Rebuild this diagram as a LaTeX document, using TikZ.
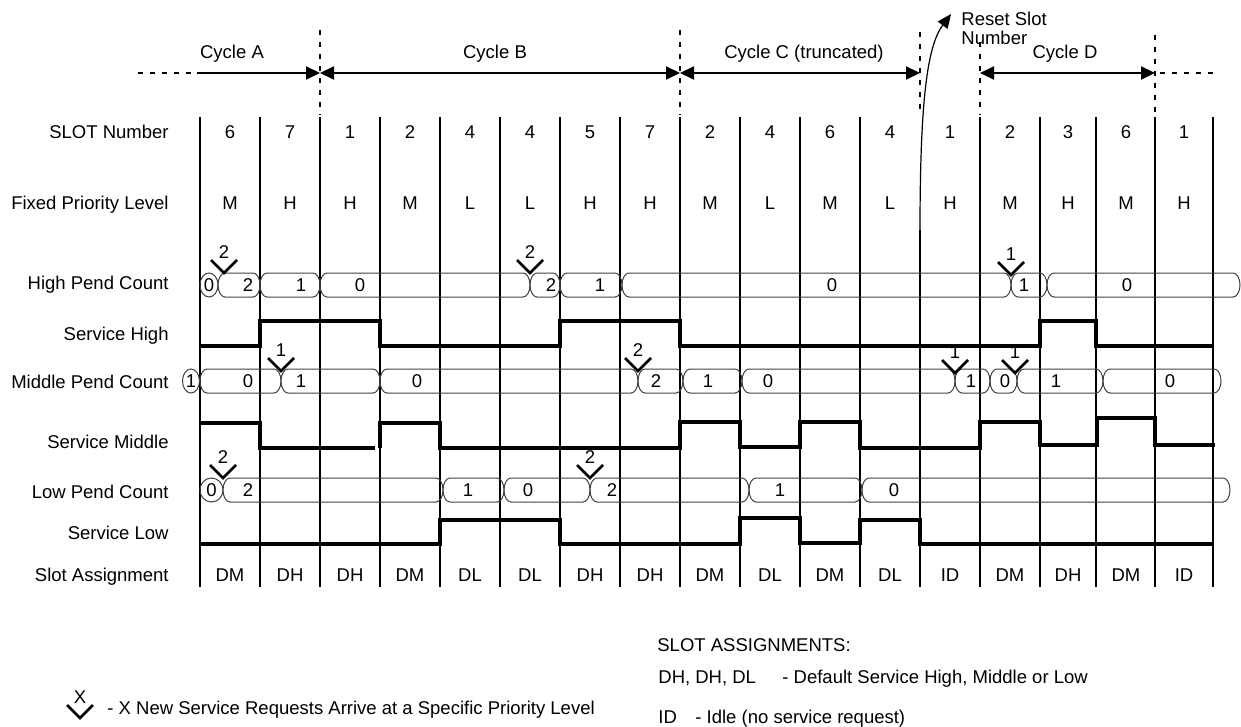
\documentclass[tikz,border=0pt]{standalone}
\usepackage{fontspec}
\setmainfont{Liberation Sans}
\usetikzlibrary{arrows.meta}
\newcommand{\pend}[5]{
  \draw[pill] (#1+7,#3-12) -- (#2-7,#3-12)
    arc[start angle=270, end angle=450, x radius=7, y radius=12]
    -- (#1+7,#3+12)
    arc[start angle=90, end angle=270, x radius=7, y radius=12] -- cycle;
  \node[lab] (p#3x#1) at (#5,#3) {#4};
}
\newcommand{\pendone}[4]{
  \draw[pill] (#1,#2) ellipse [x radius=#3, y radius=12];
  \node[lab] (c#2x#1) at (#1,#2) {#4};
}
\newcommand{\req}[3]{
  \draw[reqmark] (#1-13,#2-13) -- (#1,#2) -- (#1+13,#2-13);
  \node[lab] (r#2x#1) at (#1,#2-21) {#3};
}

\begin{document}
\begin{tikzpicture}[
    x=0.5pt, y=-0.5pt, font=\fontsize{9.25}{9.5}\selectfont,
    lab/.style={inner sep=0, text height=6.6pt, text depth=0pt},
    rowlab/.style={lab, anchor=east},
    slot/.style={line width=1pt},
    wave/.style={line width=1.6pt},
    pill/.style={draw=black!75, line width=0.5pt},
    reqmark/.style={line width=1.3pt},
    cyc/.style={line width=1pt, {Triangle[length=7pt,width=6.5pt]}-{Triangle[length=7pt,width=6.5pt]}},
    bound/.style={line width=1pt, dash pattern=on 2.5pt off 3.5pt}
  ]
    \useasboundingbox (0,0) rectangle (1241,727);

    % cycles
    \node[lab] (cA) at (232,52) {Cycle A};
    \node[lab] (cB) at (495,52) {Cycle B};
    \node[lab] (cC) at (804,52) {Cycle C (truncated)};
    \node[lab] (cD) at (1065,52) {Cycle D};
    \draw[bound] (138,73) -- (192,73);
    \draw[line width=1pt, -{Triangle[length=7pt,width=6.5pt]}] (197,73) -- (320,73);
    \draw[cyc] (320,73) -- (680,73);
    \draw[cyc] (680,73) -- (920,73);
    \draw[cyc] (980,73) -- (1155,73);
    \draw[bound] (1160,73) -- (1216,73);
    \foreach \x/\t in {320/30, 680/30, 920/32, 980/42, 1155/35}
      \draw[bound] (\x,\t) -- (\x,115);

    \node[inner sep=0, align=left, anchor=west] (reset) at (961,28) {Reset Slot\\Number};
    \coordinate (resettip) at (951,14);
    \draw[line width=0.6pt, -{Triangle[length=7pt,width=6pt]}] (920,230) .. controls (920,95) and (928,45) .. (resettip);

    % slot grid
    \foreach \x in {200,260,320,380,440,500,560,620,680,740,800,860,980,1040,1096,1155,1213}
      \draw[slot] (\x,117) -- (\x,587);
    \draw[slot] (920,230) -- (920,587);

    \foreach \x/\n/\p/\a in {230/6/M/DM, 290/7/H/DH, 350/1/H/DH, 410/2/M/DM, 470/4/L/DL,
        530/4/L/DL, 590/5/H/DH, 650/7/H/DH, 710/2/M/DM, 770/4/L/DL, 830/6/M/DM,
        890/4/L/DL, 950/1/H/ID, 1010/2/M/DM, 1068/3/H/DH, 1126/6/M/DM, 1184/1/H/ID} {
      \node[lab] (n\x) at (\x,132) {\n};
      \node[lab] (f\x) at (\x,203) {\p};
      \node[lab] (a\x) at (\x,575) {\a};
    }

    \node[rowlab] (lslot) at (169,132) {SLOT Number};
    \node[rowlab] (lfix) at (169,203) {Fixed Priority Level};
    \node[rowlab] (lhpc) at (169,283) {High Pend Count};
    \node[rowlab] (lsh) at (169,334) {Service High};
    \node[rowlab] (lmpc) at (169,382) {Middle Pend Count};
    \node[rowlab] (lsm) at (169,442) {Service Middle};
    \node[rowlab] (llpc) at (169,492) {Low Pend Count};
    \node[rowlab] (lsl) at (169,533) {Service Low};
    \node[rowlab] (lasg) at (169,575) {Slot Assignment};

    % high
    \pendone{209}{285}{9}{0}
    \pend{218}{260}{285}{2}{248}
    \pend{260}{320}{285}{1}{301}
    \pend{320}{530}{285}{0}{360}
    \pend{530}{560}{285}{2}{551}
    \pend{560}{622}{285}{1}{600}
    \pend{622}{1011}{285}{0}{832}
    \pend{1011}{1047}{285}{1}{1024}
    \pend{1047}{1240}{285}{0}{1127}
    \req{224}{273}{2}
    \req{530}{273}{2}
    \req{1011}{275}{1}
    \draw[wave] (200,346) -- (260,346) -- (260,321) -- (380,321) -- (380,346) -- (560,346)
      -- (560,321) -- (680,321) -- (680,346) -- (1040,346) -- (1040,321) -- (1096,321)
      -- (1096,346) -- (1213,346);

    % middle
    \pendone{191}{381}{8.5}{1}
    \pend{200}{281}{381}{0}{248}
    \pend{281}{380}{381}{1}{301}
    \pend{380}{638}{381}{0}{417}
    \pend{638}{683}{381}{2}{656}
    \pend{683}{742}{381}{1}{708}
    \pend{742}{955}{381}{0}{768}
    \pend{955}{990}{381}{1}{971}
    \pend{990}{1017}{381}{0}{1005}
    \pend{1017}{1103}{381}{1}{1056}
    \pend{1103}{1221}{381}{0}{1170}
    \req{281}{371}{1}
    \req{638}{371}{2}
    \req{955}{373}{1}
    \req{1015}{373}{1}
    \draw[wave] (200,423) -- (260,423) -- (260,448) -- (375,448);
    \draw[wave] (380,448) -- (380,423) -- (440,423) -- (440,448) -- (680,448) -- (680,422)
      -- (740,422) -- (740,447) -- (800,447) -- (800,422) -- (860,422) -- (860,448)
      -- (980,448) -- (980,422) -- (1040,422) -- (1040,445) -- (1097,445) -- (1097,418)
      -- (1155,418) -- (1155,445) -- (1215,445);

    % low
    \pendone{211.5}{490}{11.5}{0}
    \pend{223}{443}{490}{2}{248}
    \pend{443}{504}{490}{1}{468}
    \pend{504}{590}{490}{0}{528}
    \pend{590}{749}{490}{2}{612}
    \pend{749}{862}{490}{1}{780}
    \pend{862}{1230}{490}{0}{894}
    \req{223}{478}{2}
    \req{590}{478}{2}
    \draw[wave] (200,544) -- (440,544) -- (440,520) -- (560,520) -- (560,544) -- (740,544)
      -- (740,518) -- (800,518) -- (800,543) -- (860,543) -- (860,520) -- (920,520)
      -- (920,544) -- (1213,544);

    % legend
    \req{80}{718}{X}
    \node[lab, anchor=west] (lgreq) at (107,708) {- X New Service Requests Arrive at a Specific Priority Level};
    \node[lab, anchor=west] (lgtitle) at (657,645) {SLOT ASSIGNMENTS:};
    \node[lab, anchor=west] (lgd) at (658,677) {DH, DH, DL};
    \node[lab, anchor=west] (lgdtext) at (782,677) {- Default Service High, Middle or Low};
    \node[lab, anchor=west] (lgid) at (658,717) {ID};
    \node[lab, anchor=west] (lgidtext) at (695,717) {- Idle (no service request)};
  \end{tikzpicture}
\end{document}
